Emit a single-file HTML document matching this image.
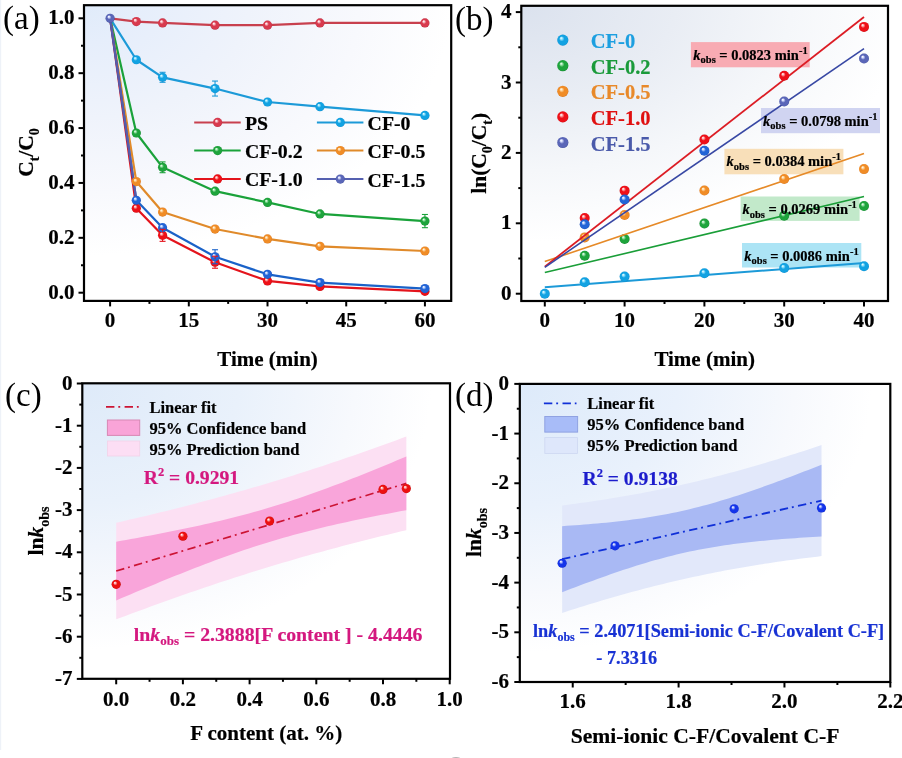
<!DOCTYPE html>
<html><head><meta charset="utf-8"><title>Figure</title>
<style>html,body{margin:0;padding:0;background:#fff;width:902px;height:758px;overflow:hidden}svg{display:block}</style>
</head><body>
<svg width="902" height="758" viewBox="0 0 902 758" font-family="'Liberation Serif', 'Times New Roman', serif"><defs><radialGradient id="m_ps" cx="0.5" cy="0.5" r="0.52" fx="0.34" fy="0.3"><stop offset="0" stop-color="#ffffff"/><stop offset="0.16" stop-color="#fbd0d6"/><stop offset="0.45" stop-color="#d83a4e"/><stop offset="0.85" stop-color="#d83a4e"/><stop offset="1" stop-color="#b02a3c"/></radialGradient><radialGradient id="m_cf0" cx="0.5" cy="0.5" r="0.52" fx="0.34" fy="0.3"><stop offset="0" stop-color="#ffffff"/><stop offset="0.16" stop-color="#a8eaff"/><stop offset="0.45" stop-color="#12a2e2"/><stop offset="0.85" stop-color="#12a2e2"/><stop offset="1" stop-color="#0c88c8"/></radialGradient><radialGradient id="m_cf02" cx="0.5" cy="0.5" r="0.52" fx="0.34" fy="0.3"><stop offset="0" stop-color="#ffffff"/><stop offset="0.16" stop-color="#b0ecbc"/><stop offset="0.45" stop-color="#1ea43c"/><stop offset="0.85" stop-color="#1ea43c"/><stop offset="1" stop-color="#12822c"/></radialGradient><radialGradient id="m_cf05" cx="0.5" cy="0.5" r="0.52" fx="0.34" fy="0.3"><stop offset="0" stop-color="#ffffff"/><stop offset="0.16" stop-color="#ffe0b0"/><stop offset="0.45" stop-color="#f08c26"/><stop offset="0.85" stop-color="#f08c26"/><stop offset="1" stop-color="#d0701a"/></radialGradient><radialGradient id="m_cf10" cx="0.5" cy="0.5" r="0.52" fx="0.34" fy="0.3"><stop offset="0" stop-color="#ffffff"/><stop offset="0.16" stop-color="#ffc0c0"/><stop offset="0.45" stop-color="#ee1018"/><stop offset="0.85" stop-color="#ee1018"/><stop offset="1" stop-color="#c4080e"/></radialGradient><radialGradient id="m_slate" cx="0.5" cy="0.5" r="0.52" fx="0.34" fy="0.3"><stop offset="0" stop-color="#ffffff"/><stop offset="0.16" stop-color="#dce2ff"/><stop offset="0.45" stop-color="#5a66b8"/><stop offset="0.85" stop-color="#5a66b8"/><stop offset="1" stop-color="#404c98"/></radialGradient><radialGradient id="m_royal" cx="0.5" cy="0.5" r="0.52" fx="0.34" fy="0.3"><stop offset="0" stop-color="#ffffff"/><stop offset="0.16" stop-color="#c8dcff"/><stop offset="0.45" stop-color="#2264d6"/><stop offset="0.85" stop-color="#2264d6"/><stop offset="1" stop-color="#1448b0"/></radialGradient><radialGradient id="m_dblue" cx="0.5" cy="0.5" r="0.52" fx="0.34" fy="0.3"><stop offset="0" stop-color="#ffffff"/><stop offset="0.16" stop-color="#c0ccff"/><stop offset="0.45" stop-color="#1434ea"/><stop offset="0.85" stop-color="#1434ea"/><stop offset="1" stop-color="#0a22c0"/></radialGradient><radialGradient id="m_cred" cx="0.5" cy="0.5" r="0.52" fx="0.34" fy="0.3"><stop offset="0" stop-color="#ffffff"/><stop offset="0.16" stop-color="#ffc0c0"/><stop offset="0.45" stop-color="#ec1010"/><stop offset="0.85" stop-color="#ec1010"/><stop offset="1" stop-color="#b40808"/></radialGradient><radialGradient id="bga" gradientUnits="userSpaceOnUse" cx="0" cy="0" r="1" gradientTransform="translate(84,5) scale(367.0,250.8)"><stop offset="0" stop-color="#e0ebfa"/><stop offset="0.15" stop-color="#e6eefb"/><stop offset="0.45" stop-color="#eff3fb"/><stop offset="0.75" stop-color="#f8f9fd"/><stop offset="1" stop-color="#ffffff"/></radialGradient><radialGradient id="bgb" gradientUnits="userSpaceOnUse" cx="0" cy="0" r="1" gradientTransform="translate(521,6) scale(385.4,236.0)"><stop offset="0" stop-color="#dbe2ee"/><stop offset="0.4" stop-color="#e9edf4"/><stop offset="0.7" stop-color="#f5f7fa"/><stop offset="1" stop-color="#ffffff"/></radialGradient><radialGradient id="bgc" gradientUnits="userSpaceOnUse" cx="0" cy="0" r="1" gradientTransform="translate(82,383) scale(349.6,266.4)"><stop offset="0" stop-color="#deeaf9"/><stop offset="0.45" stop-color="#e9f1fb"/><stop offset="0.78" stop-color="#f7f9fd"/><stop offset="1" stop-color="#ffffff"/></radialGradient><radialGradient id="bgd" gradientUnits="userSpaceOnUse" cx="0" cy="0" r="1" gradientTransform="translate(520,384) scale(351.5,268.2)"><stop offset="0" stop-color="#ddeafa"/><stop offset="0.45" stop-color="#e9f1fc"/><stop offset="0.78" stop-color="#f7f9fd"/><stop offset="1" stop-color="#ffffff"/></radialGradient></defs><rect width="902" height="758" fill="#fff"/><rect x="84.0" y="5.2" width="367.2" height="295.7" fill="url(#bga)"/>
<polyline points="110.10,18.30 136.33,21.59 162.57,22.96 215.04,25.16 267.51,25.16 319.98,22.96 424.92,22.96" fill="none" stroke="#c8404e" stroke-width="2.2" stroke-linejoin="round" />
<polyline points="110.10,18.30 136.33,59.73 162.57,77.30 215.04,88.55 267.51,101.99 319.98,106.66 424.92,115.44" fill="none" stroke="#1c9ad8" stroke-width="2.2" stroke-linejoin="round" />
<polyline points="110.10,18.30 136.33,133.00 162.57,167.30 215.04,191.17 267.51,202.42 319.98,213.95 424.92,221.08" fill="none" stroke="#1aa23a" stroke-width="2.2" stroke-linejoin="round" />
<polyline points="110.10,18.30 136.33,181.57 162.57,212.03 215.04,229.04 267.51,238.92 319.98,246.33 424.92,250.99" fill="none" stroke="#e08a2a" stroke-width="2.2" stroke-linejoin="round" />
<polyline points="110.10,18.30 136.33,208.18 162.57,235.35 215.04,262.24 267.51,280.90 319.98,286.39 424.92,291.33" fill="none" stroke="#e4141c" stroke-width="2.2" stroke-linejoin="round" />
<polyline points="110.10,18.30 136.33,200.23 162.57,227.67 215.04,256.75 267.51,274.32 319.98,282.55 424.92,288.58" fill="none" stroke="#1a62c8" stroke-width="2.2" stroke-linejoin="round" />
<line x1="110.10" y1="18.30" x2="136.33" y2="199.73" stroke="#5a5aa8" stroke-width="2.0" />
<circle cx="136.33" cy="21.59" r="4.6" fill="url(#m_ps)"/>
<circle cx="162.57" cy="22.96" r="4.6" fill="url(#m_ps)"/>
<circle cx="215.04" cy="25.16" r="4.6" fill="url(#m_ps)"/>
<circle cx="267.51" cy="25.16" r="4.6" fill="url(#m_ps)"/>
<circle cx="319.98" cy="22.96" r="4.6" fill="url(#m_ps)"/>
<circle cx="424.92" cy="22.96" r="4.6" fill="url(#m_ps)"/>
<circle cx="136.33" cy="59.73" r="4.6" fill="url(#m_cf0)"/>
<circle cx="162.57" cy="77.30" r="4.6" fill="url(#m_cf0)"/>
<circle cx="215.04" cy="88.55" r="4.6" fill="url(#m_cf0)"/>
<circle cx="267.51" cy="101.99" r="4.6" fill="url(#m_cf0)"/>
<circle cx="319.98" cy="106.66" r="4.6" fill="url(#m_cf0)"/>
<circle cx="424.92" cy="115.44" r="4.6" fill="url(#m_cf0)"/>
<circle cx="136.33" cy="133.00" r="4.6" fill="url(#m_cf02)"/>
<circle cx="162.57" cy="167.30" r="4.6" fill="url(#m_cf02)"/>
<circle cx="215.04" cy="191.17" r="4.6" fill="url(#m_cf02)"/>
<circle cx="267.51" cy="202.42" r="4.6" fill="url(#m_cf02)"/>
<circle cx="319.98" cy="213.95" r="4.6" fill="url(#m_cf02)"/>
<circle cx="424.92" cy="221.08" r="4.6" fill="url(#m_cf02)"/>
<circle cx="136.33" cy="181.57" r="4.6" fill="url(#m_cf05)"/>
<circle cx="162.57" cy="212.03" r="4.6" fill="url(#m_cf05)"/>
<circle cx="215.04" cy="229.04" r="4.6" fill="url(#m_cf05)"/>
<circle cx="267.51" cy="238.92" r="4.6" fill="url(#m_cf05)"/>
<circle cx="319.98" cy="246.33" r="4.6" fill="url(#m_cf05)"/>
<circle cx="424.92" cy="250.99" r="4.6" fill="url(#m_cf05)"/>
<circle cx="136.33" cy="208.18" r="4.6" fill="url(#m_cf10)"/>
<circle cx="162.57" cy="235.35" r="4.6" fill="url(#m_cf10)"/>
<circle cx="215.04" cy="262.24" r="4.6" fill="url(#m_cf10)"/>
<circle cx="267.51" cy="280.90" r="4.6" fill="url(#m_cf10)"/>
<circle cx="319.98" cy="286.39" r="4.6" fill="url(#m_cf10)"/>
<circle cx="424.92" cy="291.33" r="4.6" fill="url(#m_cf10)"/>
<circle cx="136.33" cy="200.23" r="4.6" fill="url(#m_royal)"/>
<circle cx="162.57" cy="227.67" r="4.6" fill="url(#m_royal)"/>
<circle cx="215.04" cy="256.75" r="4.6" fill="url(#m_royal)"/>
<circle cx="267.51" cy="274.32" r="4.6" fill="url(#m_royal)"/>
<circle cx="319.98" cy="282.55" r="4.6" fill="url(#m_royal)"/>
<circle cx="424.92" cy="288.58" r="4.6" fill="url(#m_royal)"/>
<line x1="162.57" y1="72.30" x2="162.57" y2="73.80" stroke="#1c9ad8" stroke-width="1.1" />
<line x1="162.57" y1="80.80" x2="162.57" y2="82.30" stroke="#1c9ad8" stroke-width="1.1" />
<line x1="159.57" y1="72.30" x2="165.57" y2="72.30" stroke="#1c9ad8" stroke-width="1.1" />
<line x1="159.57" y1="82.30" x2="165.57" y2="82.30" stroke="#1c9ad8" stroke-width="1.1" />
<line x1="215.04" y1="81.05" x2="215.04" y2="85.05" stroke="#1c9ad8" stroke-width="1.1" />
<line x1="215.04" y1="92.05" x2="215.04" y2="96.05" stroke="#1c9ad8" stroke-width="1.1" />
<line x1="212.04" y1="81.05" x2="218.04" y2="81.05" stroke="#1c9ad8" stroke-width="1.1" />
<line x1="212.04" y1="96.05" x2="218.04" y2="96.05" stroke="#1c9ad8" stroke-width="1.1" />
<line x1="162.57" y1="161.90" x2="162.57" y2="163.80" stroke="#1aa23a" stroke-width="1.1" />
<line x1="162.57" y1="170.80" x2="162.57" y2="172.70" stroke="#1aa23a" stroke-width="1.1" />
<line x1="159.57" y1="161.90" x2="165.57" y2="161.90" stroke="#1aa23a" stroke-width="1.1" />
<line x1="159.57" y1="172.70" x2="165.57" y2="172.70" stroke="#1aa23a" stroke-width="1.1" />
<line x1="424.92" y1="214.48" x2="424.92" y2="217.58" stroke="#1aa23a" stroke-width="1.1" />
<line x1="424.92" y1="224.58" x2="424.92" y2="227.68" stroke="#1aa23a" stroke-width="1.1" />
<line x1="421.92" y1="214.48" x2="427.92" y2="214.48" stroke="#1aa23a" stroke-width="1.1" />
<line x1="421.92" y1="227.68" x2="427.92" y2="227.68" stroke="#1aa23a" stroke-width="1.1" />
<line x1="162.57" y1="229.35" x2="162.57" y2="231.85" stroke="#e4141c" stroke-width="1.1" />
<line x1="162.57" y1="238.85" x2="162.57" y2="241.35" stroke="#e4141c" stroke-width="1.1" />
<line x1="159.57" y1="229.35" x2="165.57" y2="229.35" stroke="#e4141c" stroke-width="1.1" />
<line x1="159.57" y1="241.35" x2="165.57" y2="241.35" stroke="#e4141c" stroke-width="1.1" />
<line x1="215.04" y1="256.24" x2="215.04" y2="258.74" stroke="#e4141c" stroke-width="1.1" />
<line x1="215.04" y1="265.74" x2="215.04" y2="268.24" stroke="#e4141c" stroke-width="1.1" />
<line x1="212.04" y1="256.24" x2="218.04" y2="256.24" stroke="#e4141c" stroke-width="1.1" />
<line x1="212.04" y1="268.24" x2="218.04" y2="268.24" stroke="#e4141c" stroke-width="1.1" />
<line x1="215.04" y1="249.75" x2="215.04" y2="253.25" stroke="#1a62c8" stroke-width="1.1" />
<line x1="215.04" y1="260.25" x2="215.04" y2="263.75" stroke="#1a62c8" stroke-width="1.1" />
<line x1="212.04" y1="249.75" x2="218.04" y2="249.75" stroke="#1a62c8" stroke-width="1.1" />
<line x1="212.04" y1="263.75" x2="218.04" y2="263.75" stroke="#1a62c8" stroke-width="1.1" />
<circle cx="110.10" cy="18.30" r="4.6" fill="url(#m_slate)"/>
<line x1="194.20" y1="122.40" x2="240.70" y2="122.40" stroke="#c8404e" stroke-width="2.0" />
<circle cx="217.60" cy="122.40" r="4.6" fill="url(#m_ps)"/>
<text x="244.90" y="129.90" font-size="19.8" font-weight="bold" fill="#000" text-anchor="start"  stroke="#000" stroke-width="0.2">PS</text>
<line x1="316.90" y1="122.40" x2="363.40" y2="122.40" stroke="#1c9ad8" stroke-width="2.0" />
<circle cx="340.30" cy="122.40" r="4.6" fill="url(#m_cf0)"/>
<text x="367.60" y="129.90" font-size="19.8" font-weight="bold" fill="#000" text-anchor="start"  stroke="#000" stroke-width="0.2">CF-0</text>
<line x1="194.20" y1="150.60" x2="240.70" y2="150.60" stroke="#1aa23a" stroke-width="2.0" />
<circle cx="217.60" cy="150.60" r="4.6" fill="url(#m_cf02)"/>
<text x="244.90" y="158.10" font-size="19.8" font-weight="bold" fill="#000" text-anchor="start"  stroke="#000" stroke-width="0.2">CF-0.2</text>
<line x1="316.90" y1="150.60" x2="363.40" y2="150.60" stroke="#e08a2a" stroke-width="2.0" />
<circle cx="340.30" cy="150.60" r="4.6" fill="url(#m_cf05)"/>
<text x="367.60" y="158.10" font-size="19.8" font-weight="bold" fill="#000" text-anchor="start"  stroke="#000" stroke-width="0.2">CF-0.5</text>
<line x1="194.20" y1="178.90" x2="240.70" y2="178.90" stroke="#e4141c" stroke-width="2.0" />
<circle cx="217.60" cy="178.90" r="4.6" fill="url(#m_cf10)"/>
<text x="244.90" y="186.40" font-size="19.8" font-weight="bold" fill="#000" text-anchor="start"  stroke="#000" stroke-width="0.2">CF-1.0</text>
<line x1="316.90" y1="179.10" x2="363.40" y2="179.10" stroke="#5560b0" stroke-width="2.0" />
<circle cx="340.30" cy="179.10" r="4.6" fill="url(#m_slate)"/>
<text x="367.60" y="186.60" font-size="19.8" font-weight="bold" fill="#000" text-anchor="start"  stroke="#000" stroke-width="0.2">CF-1.5</text>
<rect x="84.00" y="5.20" width="367.20" height="295.70" fill="none" stroke="#000" stroke-width="2.2"/>
<line x1="78.50" y1="292.70" x2="84.00" y2="292.70" stroke="#000" stroke-width="2" />
<line x1="78.50" y1="237.82" x2="84.00" y2="237.82" stroke="#000" stroke-width="2" />
<line x1="78.50" y1="182.94" x2="84.00" y2="182.94" stroke="#000" stroke-width="2" />
<line x1="78.50" y1="128.06" x2="84.00" y2="128.06" stroke="#000" stroke-width="2" />
<line x1="78.50" y1="73.18" x2="84.00" y2="73.18" stroke="#000" stroke-width="2" />
<line x1="78.50" y1="18.30" x2="84.00" y2="18.30" stroke="#000" stroke-width="2" />
<line x1="81.00" y1="265.26" x2="84.00" y2="265.26" stroke="#000" stroke-width="2" />
<line x1="81.00" y1="210.38" x2="84.00" y2="210.38" stroke="#000" stroke-width="2" />
<line x1="81.00" y1="155.50" x2="84.00" y2="155.50" stroke="#000" stroke-width="2" />
<line x1="81.00" y1="100.62" x2="84.00" y2="100.62" stroke="#000" stroke-width="2" />
<line x1="81.00" y1="45.74" x2="84.00" y2="45.74" stroke="#000" stroke-width="2" />
<line x1="110.10" y1="300.90" x2="110.10" y2="306.40" stroke="#000" stroke-width="2" />
<line x1="188.81" y1="300.90" x2="188.81" y2="306.40" stroke="#000" stroke-width="2" />
<line x1="267.51" y1="300.90" x2="267.51" y2="306.40" stroke="#000" stroke-width="2" />
<line x1="346.22" y1="300.90" x2="346.22" y2="306.40" stroke="#000" stroke-width="2" />
<line x1="424.92" y1="300.90" x2="424.92" y2="306.40" stroke="#000" stroke-width="2" />
<line x1="149.45" y1="300.90" x2="149.45" y2="303.90" stroke="#000" stroke-width="2" />
<line x1="228.16" y1="300.90" x2="228.16" y2="303.90" stroke="#000" stroke-width="2" />
<line x1="306.86" y1="300.90" x2="306.86" y2="303.90" stroke="#000" stroke-width="2" />
<line x1="385.57" y1="300.90" x2="385.57" y2="303.90" stroke="#000" stroke-width="2" />
<text x="74.50" y="298.80" font-size="21" font-weight="bold" fill="#000" text-anchor="end"  stroke="#000" stroke-width="0.2">0.0</text>
<text x="74.50" y="243.92" font-size="21" font-weight="bold" fill="#000" text-anchor="end"  stroke="#000" stroke-width="0.2">0.2</text>
<text x="74.50" y="189.04" font-size="21" font-weight="bold" fill="#000" text-anchor="end"  stroke="#000" stroke-width="0.2">0.4</text>
<text x="74.50" y="134.16" font-size="21" font-weight="bold" fill="#000" text-anchor="end"  stroke="#000" stroke-width="0.2">0.6</text>
<text x="74.50" y="79.28" font-size="21" font-weight="bold" fill="#000" text-anchor="end"  stroke="#000" stroke-width="0.2">0.8</text>
<text x="74.50" y="24.40" font-size="21" font-weight="bold" fill="#000" text-anchor="end"  stroke="#000" stroke-width="0.2">1.0</text>
<text x="110.10" y="327.20" font-size="21" font-weight="bold" fill="#000" text-anchor="middle"  stroke="#000" stroke-width="0.2">0</text>
<text x="188.81" y="327.20" font-size="21" font-weight="bold" fill="#000" text-anchor="middle"  stroke="#000" stroke-width="0.2">15</text>
<text x="267.51" y="327.20" font-size="21" font-weight="bold" fill="#000" text-anchor="middle"  stroke="#000" stroke-width="0.2">30</text>
<text x="346.22" y="327.20" font-size="21" font-weight="bold" fill="#000" text-anchor="middle"  stroke="#000" stroke-width="0.2">45</text>
<text x="424.92" y="327.20" font-size="21" font-weight="bold" fill="#000" text-anchor="middle"  stroke="#000" stroke-width="0.2">60</text>
<text x="267.60" y="366.00" font-size="21" font-weight="bold" fill="#000" text-anchor="middle"  stroke="#000" stroke-width="0.2">Time (min)</text>
<text transform="translate(33,152.5) rotate(-90)" font-size="21.5" font-weight="bold" text-anchor="middle" stroke="#000" stroke-width="0.2">C<tspan font-size="14" dy="5.5">t</tspan><tspan dy="-5.5">/C</tspan><tspan font-size="14" dy="5.5">0</tspan></text>
<text x="3.10" y="29.40" font-size="33" font-weight="normal" fill="#000" text-anchor="start" >(a)</text>
<rect x="521.3" y="5.8" width="366.70000000000005" height="295.2" fill="url(#bgb)"/>
<rect x="690.9" y="42.1" width="118.8" height="25.2" fill="#f8abb3"/>
<rect x="761.0" y="108.0" width="119.0" height="25.2" fill="#d0d4f1"/>
<rect x="724.4" y="148.8" width="119.0" height="25.5" fill="#f8dfb9"/>
<rect x="740.6" y="196.5" width="119.0" height="24.4" fill="#c2e9ca"/>
<rect x="742.0" y="243.0" width="119.3" height="24.5" fill="#ace4f5"/>
<line x1="544.80" y1="287.29" x2="864.00" y2="262.94" stroke="#1c9ad8" stroke-width="2.0" />
<circle cx="544.80" cy="293.70" r="5.0" fill="url(#m_cf0)"/>
<circle cx="584.70" cy="282.22" r="5.0" fill="url(#m_cf0)"/>
<circle cx="624.60" cy="276.59" r="5.0" fill="url(#m_cf0)"/>
<circle cx="704.40" cy="273.21" r="5.0" fill="url(#m_cf0)"/>
<circle cx="784.20" cy="267.93" r="5.0" fill="url(#m_cf0)"/>
<circle cx="864.00" cy="266.24" r="5.0" fill="url(#m_cf0)"/>
<line x1="544.80" y1="272.58" x2="864.00" y2="196.55" stroke="#1a9e38" stroke-width="1.6" />
<circle cx="584.70" cy="255.68" r="5.0" fill="url(#m_cf02)"/>
<circle cx="624.60" cy="238.93" r="5.0" fill="url(#m_cf02)"/>
<circle cx="704.40" cy="223.58" r="5.0" fill="url(#m_cf02)"/>
<circle cx="784.20" cy="215.77" r="5.0" fill="url(#m_cf02)"/>
<circle cx="864.00" cy="206.05" r="5.0" fill="url(#m_cf02)"/>
<line x1="544.80" y1="261.60" x2="864.00" y2="153.60" stroke="#e68a28" stroke-width="1.6" />
<circle cx="584.70" cy="237.38" r="5.0" fill="url(#m_cf05)"/>
<circle cx="624.60" cy="214.92" r="5.0" fill="url(#m_cf05)"/>
<circle cx="704.40" cy="190.56" r="5.0" fill="url(#m_cf05)"/>
<circle cx="784.20" cy="178.95" r="5.0" fill="url(#m_cf05)"/>
<circle cx="864.00" cy="169.09" r="5.0" fill="url(#m_cf05)"/>
<line x1="544.80" y1="266.60" x2="864.00" y2="17.03" stroke="#dc1c24" stroke-width="1.8" />
<circle cx="584.70" cy="218.02" r="5.0" fill="url(#m_cf10)"/>
<circle cx="624.60" cy="190.63" r="5.0" fill="url(#m_cf10)"/>
<circle cx="704.40" cy="139.52" r="5.0" fill="url(#m_cf10)"/>
<circle cx="784.20" cy="75.81" r="5.0" fill="url(#m_cf10)"/>
<circle cx="864.00" cy="26.88" r="5.0" fill="url(#m_cf10)"/>
<line x1="544.80" y1="267.30" x2="864.00" y2="48.71" stroke="#3848a4" stroke-width="1.6" />
<circle cx="584.70" cy="224.29" r="5.0" fill="url(#m_royal)"/>
<circle cx="624.60" cy="199.50" r="5.0" fill="url(#m_royal)"/>
<circle cx="704.40" cy="150.79" r="5.0" fill="url(#m_royal)"/>
<circle cx="784.20" cy="101.51" r="5.0" fill="url(#m_slate)"/>
<circle cx="864.00" cy="58.56" r="5.0" fill="url(#m_slate)"/>
<text x="693.3" y="59.7" font-size="14.5" font-weight="bold" stroke="#000" stroke-width="0.2"><tspan font-style="italic">k</tspan><tspan font-size="10.5" dy="3.5">obs</tspan><tspan dy="-3.5"> = 0.0823 min</tspan><tspan font-size="10.5" dy="-6">-1</tspan></text>
<text x="763.1" y="125.6" font-size="14.5" font-weight="bold" stroke="#000" stroke-width="0.2"><tspan font-style="italic">k</tspan><tspan font-size="10.5" dy="3.5">obs</tspan><tspan dy="-3.5"> = 0.0798 min</tspan><tspan font-size="10.5" dy="-6">-1</tspan></text>
<text x="726.6" y="166.4" font-size="14.5" font-weight="bold" stroke="#000" stroke-width="0.2"><tspan font-style="italic">k</tspan><tspan font-size="10.5" dy="3.5">obs</tspan><tspan dy="-3.5"> = 0.0384 min</tspan><tspan font-size="10.5" dy="-6">-1</tspan></text>
<text x="742.5" y="214.1" font-size="14.5" font-weight="bold" stroke="#000" stroke-width="0.2"><tspan font-style="italic">k</tspan><tspan font-size="10.5" dy="3.5">obs</tspan><tspan dy="-3.5"> = 0.0269 min</tspan><tspan font-size="10.5" dy="-6">-1</tspan></text>
<text x="744.3" y="260.6" font-size="14.5" font-weight="bold" stroke="#000" stroke-width="0.2"><tspan font-style="italic">k</tspan><tspan font-size="10.5" dy="3.5">obs</tspan><tspan dy="-3.5"> = 0.0086 min</tspan><tspan font-size="10.5" dy="-6">-1</tspan></text>
<circle cx="562.80" cy="40.10" r="5.6" fill="url(#m_cf0)"/>
<text x="590.80" y="48.10" font-size="20.5" font-weight="bold" fill="#1c9fe0" text-anchor="start"  stroke="#1c9fe0" stroke-width="0.2">CF-0</text>
<circle cx="562.80" cy="65.70" r="5.6" fill="url(#m_cf02)"/>
<text x="590.80" y="73.70" font-size="20.5" font-weight="bold" fill="#1a9a3a" text-anchor="start"  stroke="#1a9a3a" stroke-width="0.2">CF-0.2</text>
<circle cx="562.80" cy="91.30" r="5.6" fill="url(#m_cf05)"/>
<text x="590.80" y="99.30" font-size="20.5" font-weight="bold" fill="#e8892a" text-anchor="start"  stroke="#e8892a" stroke-width="0.2">CF-0.5</text>
<circle cx="562.80" cy="116.90" r="5.6" fill="url(#m_cf10)"/>
<text x="590.80" y="124.90" font-size="20.5" font-weight="bold" fill="#e01010" text-anchor="start"  stroke="#e01010" stroke-width="0.2">CF-1.0</text>
<circle cx="562.80" cy="142.50" r="5.6" fill="url(#m_slate)"/>
<text x="590.80" y="150.50" font-size="20.5" font-weight="bold" fill="#4a5aaa" text-anchor="start"  stroke="#4a5aaa" stroke-width="0.2">CF-1.5</text>
<rect x="521.30" y="5.80" width="366.70" height="295.20" fill="none" stroke="#000" stroke-width="2.2"/>
<line x1="515.80" y1="293.70" x2="521.30" y2="293.70" stroke="#000" stroke-width="2" />
<line x1="515.80" y1="223.30" x2="521.30" y2="223.30" stroke="#000" stroke-width="2" />
<line x1="515.80" y1="152.90" x2="521.30" y2="152.90" stroke="#000" stroke-width="2" />
<line x1="515.80" y1="82.50" x2="521.30" y2="82.50" stroke="#000" stroke-width="2" />
<line x1="515.80" y1="12.10" x2="521.30" y2="12.10" stroke="#000" stroke-width="2" />
<line x1="518.30" y1="258.50" x2="521.30" y2="258.50" stroke="#000" stroke-width="2" />
<line x1="518.30" y1="188.10" x2="521.30" y2="188.10" stroke="#000" stroke-width="2" />
<line x1="518.30" y1="117.70" x2="521.30" y2="117.70" stroke="#000" stroke-width="2" />
<line x1="518.30" y1="47.30" x2="521.30" y2="47.30" stroke="#000" stroke-width="2" />
<line x1="544.80" y1="301.00" x2="544.80" y2="306.50" stroke="#000" stroke-width="2" />
<line x1="624.60" y1="301.00" x2="624.60" y2="306.50" stroke="#000" stroke-width="2" />
<line x1="704.40" y1="301.00" x2="704.40" y2="306.50" stroke="#000" stroke-width="2" />
<line x1="784.20" y1="301.00" x2="784.20" y2="306.50" stroke="#000" stroke-width="2" />
<line x1="864.00" y1="301.00" x2="864.00" y2="306.50" stroke="#000" stroke-width="2" />
<line x1="584.70" y1="301.00" x2="584.70" y2="304.00" stroke="#000" stroke-width="2" />
<line x1="664.50" y1="301.00" x2="664.50" y2="304.00" stroke="#000" stroke-width="2" />
<line x1="744.30" y1="301.00" x2="744.30" y2="304.00" stroke="#000" stroke-width="2" />
<line x1="824.10" y1="301.00" x2="824.10" y2="304.00" stroke="#000" stroke-width="2" />
<text x="511.50" y="299.80" font-size="21" font-weight="bold" fill="#000" text-anchor="end"  stroke="#000" stroke-width="0.2">0</text>
<text x="511.50" y="229.40" font-size="21" font-weight="bold" fill="#000" text-anchor="end"  stroke="#000" stroke-width="0.2">1</text>
<text x="511.50" y="159.00" font-size="21" font-weight="bold" fill="#000" text-anchor="end"  stroke="#000" stroke-width="0.2">2</text>
<text x="511.50" y="88.60" font-size="21" font-weight="bold" fill="#000" text-anchor="end"  stroke="#000" stroke-width="0.2">3</text>
<text x="511.50" y="18.20" font-size="21" font-weight="bold" fill="#000" text-anchor="end"  stroke="#000" stroke-width="0.2">4</text>
<text x="544.80" y="327.20" font-size="21" font-weight="bold" fill="#000" text-anchor="middle"  stroke="#000" stroke-width="0.2">0</text>
<text x="624.60" y="327.20" font-size="21" font-weight="bold" fill="#000" text-anchor="middle"  stroke="#000" stroke-width="0.2">10</text>
<text x="704.40" y="327.20" font-size="21" font-weight="bold" fill="#000" text-anchor="middle"  stroke="#000" stroke-width="0.2">20</text>
<text x="784.20" y="327.20" font-size="21" font-weight="bold" fill="#000" text-anchor="middle"  stroke="#000" stroke-width="0.2">30</text>
<text x="864.00" y="327.20" font-size="21" font-weight="bold" fill="#000" text-anchor="middle"  stroke="#000" stroke-width="0.2">40</text>
<text x="704.65" y="366.00" font-size="21" font-weight="bold" fill="#000" text-anchor="middle"  stroke="#000" stroke-width="0.2">Time (min)</text>
<text transform="translate(486,153.3) rotate(-90)" font-size="21.5" font-weight="bold" text-anchor="middle" stroke="#000" stroke-width="0.2">ln(C<tspan font-size="14" dy="5.5">0</tspan><tspan dy="-5.5">/C</tspan><tspan font-size="14" dy="5.5">t</tspan><tspan dy="-5.5">)</tspan></text>
<text x="455.00" y="29.60" font-size="33" font-weight="normal" fill="#000" text-anchor="start" >(b)</text>
<rect x="82.3" y="383.3" width="367.7" height="295.49999999999994" fill="url(#bgc)"/>
<path d="M116.20,522.75 L121.12,521.64 L126.04,520.51 L130.95,519.37 L135.87,518.22 L140.79,517.07 L145.71,515.90 L150.62,514.72 L155.54,513.54 L160.46,512.34 L165.38,511.13 L170.29,509.91 L175.21,508.68 L180.13,507.44 L185.05,506.18 L189.97,504.92 L194.88,503.64 L199.80,502.35 L204.72,501.05 L209.64,499.74 L214.55,498.41 L219.47,497.07 L224.39,495.72 L229.31,494.35 L234.23,492.98 L239.14,491.59 L244.06,490.18 L248.98,488.76 L253.90,487.33 L258.81,485.89 L263.73,484.43 L268.65,482.96 L273.57,481.47 L278.48,479.97 L283.40,478.46 L288.32,476.94 L293.24,475.40 L298.16,473.84 L303.07,472.28 L307.99,470.70 L312.91,469.11 L317.83,467.50 L322.74,465.88 L327.66,464.25 L332.58,462.61 L337.50,460.95 L342.41,459.28 L347.33,457.60 L352.25,455.91 L357.17,454.20 L362.09,452.49 L367.00,450.76 L371.92,449.02 L376.84,447.27 L381.76,445.50 L386.67,443.73 L391.59,441.95 L396.51,440.15 L401.43,438.35 L406.34,436.53 L406.34,530.18 L401.43,531.34 L396.51,532.51 L391.59,533.69 L386.67,534.88 L381.76,536.08 L376.84,537.29 L371.92,538.51 L367.00,539.75 L362.09,540.99 L357.17,542.25 L352.25,543.51 L347.33,544.79 L342.41,546.08 L337.50,547.39 L332.58,548.71 L327.66,550.03 L322.74,551.38 L317.83,552.73 L312.91,554.10 L307.99,555.48 L303.07,556.87 L298.16,558.28 L293.24,559.70 L288.32,561.13 L283.40,562.58 L278.48,564.04 L273.57,565.52 L268.65,567.00 L263.73,568.51 L258.81,570.02 L253.90,571.55 L248.98,573.09 L244.06,574.65 L239.14,576.22 L234.23,577.80 L229.31,579.39 L224.39,581.00 L219.47,582.62 L214.55,584.25 L209.64,585.90 L204.72,587.56 L199.80,589.23 L194.88,590.92 L189.97,592.61 L185.05,594.32 L180.13,596.04 L175.21,597.77 L170.29,599.51 L165.38,601.27 L160.46,603.03 L155.54,604.80 L150.62,606.59 L145.71,608.39 L140.79,610.19 L135.87,612.01 L130.95,613.84 L126.04,615.67 L121.12,617.52 L116.20,619.37Z" fill="#fce0f3"/>
<path d="M116.20,541.70 L121.12,540.82 L126.04,539.94 L130.95,539.04 L135.87,538.14 L140.79,537.24 L145.71,536.32 L150.62,535.39 L155.54,534.45 L160.46,533.50 L165.38,532.54 L170.29,531.57 L175.21,530.58 L180.13,529.58 L185.05,528.56 L189.97,527.53 L194.88,526.48 L199.80,525.41 L204.72,524.32 L209.64,523.21 L214.55,522.08 L219.47,520.92 L224.39,519.74 L229.31,518.53 L234.23,517.30 L239.14,516.04 L244.06,514.75 L248.98,513.42 L253.90,512.07 L258.81,510.69 L263.73,509.27 L268.65,507.82 L273.57,506.34 L278.48,504.82 L283.40,503.27 L288.32,501.69 L293.24,500.08 L298.16,498.43 L303.07,496.76 L307.99,495.05 L312.91,493.32 L317.83,491.56 L322.74,489.77 L327.66,487.96 L332.58,486.12 L337.50,484.26 L342.41,482.38 L347.33,480.48 L352.25,478.56 L357.17,476.63 L362.09,474.68 L367.00,472.71 L371.92,470.72 L376.84,468.73 L381.76,466.72 L386.67,464.70 L391.59,462.66 L396.51,460.62 L401.43,458.57 L406.34,456.51 L406.34,510.21 L401.43,511.12 L396.51,512.04 L391.59,512.97 L386.67,513.91 L381.76,514.87 L376.84,515.83 L371.92,516.81 L367.00,517.80 L362.09,518.80 L357.17,519.82 L352.25,520.86 L347.33,521.91 L342.41,522.99 L337.50,524.08 L332.58,525.19 L327.66,526.33 L322.74,527.49 L317.83,528.68 L312.91,529.89 L307.99,531.13 L303.07,532.40 L298.16,533.69 L293.24,535.02 L288.32,536.38 L283.40,537.77 L278.48,539.20 L273.57,540.65 L268.65,542.14 L263.73,543.67 L258.81,545.22 L253.90,546.81 L248.98,548.43 L244.06,550.08 L239.14,551.76 L234.23,553.47 L229.31,555.21 L224.39,556.98 L219.47,558.77 L214.55,560.59 L209.64,562.43 L204.72,564.29 L199.80,566.18 L194.88,568.08 L189.97,570.00 L185.05,571.94 L180.13,573.90 L175.21,575.87 L170.29,577.85 L165.38,579.85 L160.46,581.87 L155.54,583.89 L150.62,585.92 L145.71,587.97 L140.79,590.02 L135.87,592.09 L130.95,594.16 L126.04,596.24 L121.12,598.33 L116.20,600.42Z" fill="#f9a5da"/>
<line x1="116.20" y1="571.06" x2="406.34" y2="483.36" stroke="#cc1434" stroke-width="1.7" stroke-dasharray="8.4,3.9,1.9,4.4"/>
<circle cx="116.20" cy="584.37" r="4.6" fill="url(#m_cred)"/>
<circle cx="182.90" cy="536.26" r="4.6" fill="url(#m_cred)"/>
<circle cx="269.61" cy="521.07" r="4.6" fill="url(#m_cred)"/>
<circle cx="383.00" cy="489.42" r="4.6" fill="url(#m_cred)"/>
<circle cx="406.34" cy="488.58" r="4.6" fill="url(#m_cred)"/>
<line x1="106.00" y1="406.80" x2="138.70" y2="406.80" stroke="#cc1434" stroke-width="1.7" stroke-dasharray="8.4,3.9,1.9,4.4"/>
<rect x="107.4" y="420.0" width="32.3" height="15.4" fill="#f9a4d8" stroke="#d888b4" stroke-width="1"/>
<rect x="107.4" y="441.0" width="32.3" height="15.0" fill="#fcdef4" stroke="#f2d2e8" stroke-width="0.8"/>
<text x="149.40" y="413.20" font-size="16.5" font-weight="bold" fill="#000" text-anchor="start"  stroke="#000" stroke-width="0.2">Linear fit</text>
<text x="149.40" y="433.90" font-size="16.5" font-weight="bold" fill="#000" text-anchor="start"  stroke="#000" stroke-width="0.2">95% Confidence band</text>
<text x="149.40" y="454.60" font-size="16.5" font-weight="bold" fill="#000" text-anchor="start"  stroke="#000" stroke-width="0.2">95% Prediction band</text>
<text x="143.8" y="483.6" font-size="19.6" font-weight="bold" fill="#d4187f" stroke="#d4187f" stroke-width="0.2">R<tspan font-size="12.5" dy="-8">2</tspan><tspan dy="8"> = 0.9291</tspan></text>
<text x="133.8" y="640.6" font-size="19.8" font-weight="bold" fill="#d4187f" stroke="#d4187f" stroke-width="0.2">ln<tspan font-style="italic">k</tspan><tspan font-size="13" dy="4.5">obs</tspan><tspan dy="-4.5"> = 2.3888[F content ] - 4.4446</tspan></text>
<rect x="82.30" y="383.30" width="367.70" height="295.50" fill="none" stroke="#000" stroke-width="2.2"/>
<line x1="76.80" y1="383.50" x2="82.30" y2="383.50" stroke="#000" stroke-width="2" />
<line x1="76.80" y1="425.70" x2="82.30" y2="425.70" stroke="#000" stroke-width="2" />
<line x1="76.80" y1="467.90" x2="82.30" y2="467.90" stroke="#000" stroke-width="2" />
<line x1="76.80" y1="510.10" x2="82.30" y2="510.10" stroke="#000" stroke-width="2" />
<line x1="76.80" y1="552.30" x2="82.30" y2="552.30" stroke="#000" stroke-width="2" />
<line x1="76.80" y1="594.50" x2="82.30" y2="594.50" stroke="#000" stroke-width="2" />
<line x1="76.80" y1="636.70" x2="82.30" y2="636.70" stroke="#000" stroke-width="2" />
<line x1="76.80" y1="678.90" x2="82.30" y2="678.90" stroke="#000" stroke-width="2" />
<line x1="79.30" y1="404.60" x2="82.30" y2="404.60" stroke="#000" stroke-width="2" />
<line x1="79.30" y1="446.80" x2="82.30" y2="446.80" stroke="#000" stroke-width="2" />
<line x1="79.30" y1="489.00" x2="82.30" y2="489.00" stroke="#000" stroke-width="2" />
<line x1="79.30" y1="531.20" x2="82.30" y2="531.20" stroke="#000" stroke-width="2" />
<line x1="79.30" y1="573.40" x2="82.30" y2="573.40" stroke="#000" stroke-width="2" />
<line x1="79.30" y1="615.60" x2="82.30" y2="615.60" stroke="#000" stroke-width="2" />
<line x1="79.30" y1="657.80" x2="82.30" y2="657.80" stroke="#000" stroke-width="2" />
<line x1="116.20" y1="678.80" x2="116.20" y2="684.30" stroke="#000" stroke-width="2" />
<line x1="182.90" y1="678.80" x2="182.90" y2="684.30" stroke="#000" stroke-width="2" />
<line x1="249.60" y1="678.80" x2="249.60" y2="684.30" stroke="#000" stroke-width="2" />
<line x1="316.30" y1="678.80" x2="316.30" y2="684.30" stroke="#000" stroke-width="2" />
<line x1="383.00" y1="678.80" x2="383.00" y2="684.30" stroke="#000" stroke-width="2" />
<line x1="449.70" y1="678.80" x2="449.70" y2="684.30" stroke="#000" stroke-width="2" />
<line x1="149.55" y1="678.80" x2="149.55" y2="681.80" stroke="#000" stroke-width="2" />
<line x1="216.25" y1="678.80" x2="216.25" y2="681.80" stroke="#000" stroke-width="2" />
<line x1="282.95" y1="678.80" x2="282.95" y2="681.80" stroke="#000" stroke-width="2" />
<line x1="349.65" y1="678.80" x2="349.65" y2="681.80" stroke="#000" stroke-width="2" />
<line x1="416.35" y1="678.80" x2="416.35" y2="681.80" stroke="#000" stroke-width="2" />
<text x="72.50" y="389.60" font-size="21" font-weight="bold" fill="#000" text-anchor="end"  stroke="#000" stroke-width="0.2">0</text>
<text x="72.50" y="431.80" font-size="21" font-weight="bold" fill="#000" text-anchor="end"  stroke="#000" stroke-width="0.2">-1</text>
<text x="72.50" y="474.00" font-size="21" font-weight="bold" fill="#000" text-anchor="end"  stroke="#000" stroke-width="0.2">-2</text>
<text x="72.50" y="516.20" font-size="21" font-weight="bold" fill="#000" text-anchor="end"  stroke="#000" stroke-width="0.2">-3</text>
<text x="72.50" y="558.40" font-size="21" font-weight="bold" fill="#000" text-anchor="end"  stroke="#000" stroke-width="0.2">-4</text>
<text x="72.50" y="600.60" font-size="21" font-weight="bold" fill="#000" text-anchor="end"  stroke="#000" stroke-width="0.2">-5</text>
<text x="72.50" y="642.80" font-size="21" font-weight="bold" fill="#000" text-anchor="end"  stroke="#000" stroke-width="0.2">-6</text>
<text x="72.50" y="685.00" font-size="21" font-weight="bold" fill="#000" text-anchor="end"  stroke="#000" stroke-width="0.2">-7</text>
<text x="116.20" y="705.50" font-size="21" font-weight="bold" fill="#000" text-anchor="middle"  stroke="#000" stroke-width="0.2">0.0</text>
<text x="182.90" y="705.50" font-size="21" font-weight="bold" fill="#000" text-anchor="middle"  stroke="#000" stroke-width="0.2">0.2</text>
<text x="249.60" y="705.50" font-size="21" font-weight="bold" fill="#000" text-anchor="middle"  stroke="#000" stroke-width="0.2">0.4</text>
<text x="316.30" y="705.50" font-size="21" font-weight="bold" fill="#000" text-anchor="middle"  stroke="#000" stroke-width="0.2">0.6</text>
<text x="383.00" y="705.50" font-size="21" font-weight="bold" fill="#000" text-anchor="middle"  stroke="#000" stroke-width="0.2">0.8</text>
<text x="449.70" y="705.50" font-size="21" font-weight="bold" fill="#000" text-anchor="middle"  stroke="#000" stroke-width="0.2">1.0</text>
<text x="266.15" y="739.50" font-size="21" font-weight="bold" fill="#000" text-anchor="middle"  stroke="#000" stroke-width="0.2">F content (at. %)</text>
<text transform="translate(43,531) rotate(-90)" font-size="21.5" font-weight="bold" text-anchor="middle" stroke="#000" stroke-width="0.2">ln<tspan font-style="italic">k</tspan><tspan font-size="14" dy="5.5">obs</tspan></text>
<text x="5.10" y="405.60" font-size="33" font-weight="normal" fill="#000" text-anchor="start" >(c)</text>
<rect x="519.8" y="383.9" width="370.5" height="298.1" fill="url(#bgd)"/>
<path d="M562.14,505.46 L566.54,504.90 L570.94,504.32 L575.33,503.73 L579.73,503.12 L584.12,502.51 L588.52,501.88 L592.92,501.23 L597.31,500.57 L601.71,499.90 L606.10,499.21 L610.50,498.50 L614.89,497.78 L619.29,497.05 L623.69,496.30 L628.08,495.53 L632.48,494.75 L636.87,493.95 L641.27,493.13 L645.67,492.29 L650.06,491.44 L654.46,490.57 L658.85,489.69 L663.25,488.78 L667.65,487.86 L672.04,486.92 L676.44,485.97 L680.83,484.99 L685.23,484.00 L689.62,482.99 L694.02,481.96 L698.42,480.92 L702.81,479.85 L707.21,478.77 L711.60,477.67 L716.00,476.56 L720.40,475.42 L724.79,474.27 L729.19,473.10 L733.58,471.92 L737.98,470.72 L742.38,469.50 L746.77,468.27 L751.17,467.02 L755.56,465.75 L759.96,464.47 L764.35,463.18 L768.75,461.87 L773.15,460.54 L777.54,459.20 L781.94,457.85 L786.33,456.48 L790.73,455.10 L795.13,453.70 L799.52,452.30 L803.92,450.88 L808.31,449.45 L812.71,448.00 L817.11,446.55 L821.50,445.08 L821.50,556.11 L817.11,556.63 L812.71,557.16 L808.31,557.70 L803.92,558.26 L799.52,558.82 L795.13,559.40 L790.73,559.99 L786.33,560.60 L781.94,561.22 L777.54,561.85 L773.15,562.50 L768.75,563.16 L764.35,563.83 L759.96,564.52 L755.56,565.23 L751.17,565.95 L746.77,566.69 L742.38,567.44 L737.98,568.21 L733.58,568.99 L729.19,569.80 L724.79,570.61 L720.40,571.45 L716.00,572.30 L711.60,573.17 L707.21,574.06 L702.81,574.96 L698.42,575.89 L694.02,576.83 L689.62,577.79 L685.23,578.76 L680.83,579.76 L676.44,580.77 L672.04,581.80 L667.65,582.85 L663.25,583.91 L658.85,584.99 L654.46,586.09 L650.06,587.21 L645.67,588.35 L641.27,589.50 L636.87,590.67 L632.48,591.85 L628.08,593.06 L623.69,594.27 L619.29,595.51 L614.89,596.76 L610.50,598.03 L606.10,599.31 L601.71,600.61 L597.31,601.92 L592.92,603.25 L588.52,604.59 L584.12,605.94 L579.73,607.31 L575.33,608.69 L570.94,610.09 L566.54,611.50 L562.14,612.92Z" fill="#e2e8fa"/>
<path d="M562.14,526.16 L566.54,525.87 L570.94,525.57 L575.33,525.25 L579.73,524.92 L584.12,524.58 L588.52,524.22 L592.92,523.85 L597.31,523.46 L601.71,523.05 L606.10,522.63 L610.50,522.18 L614.89,521.71 L619.29,521.22 L623.69,520.71 L628.08,520.17 L632.48,519.60 L636.87,519.00 L641.27,518.38 L645.67,517.72 L650.06,517.03 L654.46,516.31 L658.85,515.55 L663.25,514.75 L667.65,513.92 L672.04,513.04 L676.44,512.13 L680.83,511.18 L685.23,510.19 L689.62,509.16 L694.02,508.09 L698.42,506.98 L702.81,505.83 L707.21,504.64 L711.60,503.42 L716.00,502.16 L720.40,500.87 L724.79,499.54 L729.19,498.18 L733.58,496.79 L737.98,495.38 L742.38,493.93 L746.77,492.46 L751.17,490.97 L755.56,489.45 L759.96,487.91 L764.35,486.35 L768.75,484.78 L773.15,483.18 L777.54,481.57 L781.94,479.94 L786.33,478.30 L790.73,476.64 L795.13,474.97 L799.52,473.29 L803.92,471.60 L808.31,469.90 L812.71,468.19 L817.11,466.46 L821.50,464.73 L821.50,536.46 L817.11,536.71 L812.71,536.97 L808.31,537.25 L803.92,537.53 L799.52,537.83 L795.13,538.13 L790.73,538.45 L786.33,538.78 L781.94,539.12 L777.54,539.48 L773.15,539.85 L768.75,540.25 L764.35,540.65 L759.96,541.08 L755.56,541.53 L751.17,542.00 L746.77,542.49 L742.38,543.01 L737.98,543.55 L733.58,544.12 L729.19,544.72 L724.79,545.35 L720.40,546.01 L716.00,546.70 L711.60,547.43 L707.21,548.19 L702.81,548.99 L698.42,549.83 L694.02,550.70 L689.62,551.62 L685.23,552.57 L680.83,553.57 L676.44,554.60 L672.04,555.68 L667.65,556.79 L663.25,557.94 L658.85,559.13 L654.46,560.36 L650.06,561.62 L645.67,562.92 L641.27,564.25 L636.87,565.61 L632.48,567.00 L628.08,568.42 L623.69,569.86 L619.29,571.34 L614.89,572.83 L610.50,574.35 L606.10,575.89 L601.71,577.45 L597.31,579.03 L592.92,580.63 L588.52,582.24 L584.12,583.87 L579.73,585.51 L575.33,587.17 L570.94,588.84 L566.54,590.52 L562.14,592.22Z" fill="#a9b9f4"/>
<line x1="562.14" y1="559.19" x2="821.50" y2="500.59" stroke="#1030d8" stroke-width="1.8" stroke-dasharray="8.4,3.9,1.9,4.4"/>
<circle cx="562.14" cy="563.24" r="4.6" fill="url(#m_dblue)"/>
<circle cx="615.07" cy="545.86" r="4.6" fill="url(#m_dblue)"/>
<circle cx="734.17" cy="508.85" r="4.6" fill="url(#m_dblue)"/>
<circle cx="821.50" cy="507.95" r="4.6" fill="url(#m_dblue)"/>
<line x1="543.90" y1="403.30" x2="576.50" y2="403.30" stroke="#1030d8" stroke-width="1.8" stroke-dasharray="8.4,3.9,1.9,4.4"/>
<rect x="544.8" y="416.5" width="32.8" height="15.6" fill="#a8bcf8" stroke="#90a2e2" stroke-width="1"/>
<rect x="544.8" y="437.6" width="32.8" height="15.8" fill="#dee7fb" stroke="#cdd8f2" stroke-width="0.8"/>
<text x="587.30" y="408.60" font-size="16.5" font-weight="bold" fill="#000" text-anchor="start"  stroke="#000" stroke-width="0.2">Linear fit</text>
<text x="587.30" y="430.40" font-size="16.5" font-weight="bold" fill="#000" text-anchor="start"  stroke="#000" stroke-width="0.2">95% Confidence band</text>
<text x="587.30" y="451.20" font-size="16.5" font-weight="bold" fill="#000" text-anchor="start"  stroke="#000" stroke-width="0.2">95% Prediction band</text>
<text x="582.5" y="484.6" font-size="19.6" font-weight="bold" fill="#1c1ccc" stroke="#1c1ccc" stroke-width="0.2">R<tspan font-size="12.5" dy="-8">2</tspan><tspan dy="8"> = 0.9138</tspan></text>
<text x="533.0" y="636.9" font-size="18.3" font-weight="bold" fill="#1832d4" stroke="#1832d4" stroke-width="0.2">ln<tspan font-style="italic">k</tspan><tspan font-size="12" dy="4.5">obs</tspan><tspan dy="-4.5"> = 2.4071[Semi-ionic C-F/Covalent C-F]</tspan></text>
<text x="596.30" y="663.60" font-size="18.3" font-weight="bold" fill="#1832d4" text-anchor="start"  stroke="#1832d4" stroke-width="0.2">- 7.3316</text>
<rect x="519.80" y="383.90" width="370.50" height="298.10" fill="none" stroke="#000" stroke-width="2.2"/>
<line x1="514.30" y1="383.90" x2="519.80" y2="383.90" stroke="#000" stroke-width="2" />
<line x1="514.30" y1="433.58" x2="519.80" y2="433.58" stroke="#000" stroke-width="2" />
<line x1="514.30" y1="483.26" x2="519.80" y2="483.26" stroke="#000" stroke-width="2" />
<line x1="514.30" y1="532.94" x2="519.80" y2="532.94" stroke="#000" stroke-width="2" />
<line x1="514.30" y1="582.62" x2="519.80" y2="582.62" stroke="#000" stroke-width="2" />
<line x1="514.30" y1="632.30" x2="519.80" y2="632.30" stroke="#000" stroke-width="2" />
<line x1="514.30" y1="681.98" x2="519.80" y2="681.98" stroke="#000" stroke-width="2" />
<line x1="516.80" y1="408.74" x2="519.80" y2="408.74" stroke="#000" stroke-width="2" />
<line x1="516.80" y1="458.42" x2="519.80" y2="458.42" stroke="#000" stroke-width="2" />
<line x1="516.80" y1="508.10" x2="519.80" y2="508.10" stroke="#000" stroke-width="2" />
<line x1="516.80" y1="557.78" x2="519.80" y2="557.78" stroke="#000" stroke-width="2" />
<line x1="516.80" y1="607.46" x2="519.80" y2="607.46" stroke="#000" stroke-width="2" />
<line x1="516.80" y1="657.14" x2="519.80" y2="657.14" stroke="#000" stroke-width="2" />
<line x1="572.73" y1="682.00" x2="572.73" y2="687.50" stroke="#000" stroke-width="2" />
<line x1="678.59" y1="682.00" x2="678.59" y2="687.50" stroke="#000" stroke-width="2" />
<line x1="784.45" y1="682.00" x2="784.45" y2="687.50" stroke="#000" stroke-width="2" />
<line x1="890.31" y1="682.00" x2="890.31" y2="687.50" stroke="#000" stroke-width="2" />
<line x1="625.66" y1="682.00" x2="625.66" y2="685.00" stroke="#000" stroke-width="2" />
<line x1="731.52" y1="682.00" x2="731.52" y2="685.00" stroke="#000" stroke-width="2" />
<line x1="837.38" y1="682.00" x2="837.38" y2="685.00" stroke="#000" stroke-width="2" />
<text x="509.00" y="390.00" font-size="21" font-weight="bold" fill="#000" text-anchor="end"  stroke="#000" stroke-width="0.2">0</text>
<text x="509.00" y="439.68" font-size="21" font-weight="bold" fill="#000" text-anchor="end"  stroke="#000" stroke-width="0.2">-1</text>
<text x="509.00" y="489.36" font-size="21" font-weight="bold" fill="#000" text-anchor="end"  stroke="#000" stroke-width="0.2">-2</text>
<text x="509.00" y="539.04" font-size="21" font-weight="bold" fill="#000" text-anchor="end"  stroke="#000" stroke-width="0.2">-3</text>
<text x="509.00" y="588.72" font-size="21" font-weight="bold" fill="#000" text-anchor="end"  stroke="#000" stroke-width="0.2">-4</text>
<text x="509.00" y="638.40" font-size="21" font-weight="bold" fill="#000" text-anchor="end"  stroke="#000" stroke-width="0.2">-5</text>
<text x="509.00" y="688.08" font-size="21" font-weight="bold" fill="#000" text-anchor="end"  stroke="#000" stroke-width="0.2">-6</text>
<text x="572.73" y="707.60" font-size="21" font-weight="bold" fill="#000" text-anchor="middle"  stroke="#000" stroke-width="0.2">1.6</text>
<text x="678.59" y="707.60" font-size="21" font-weight="bold" fill="#000" text-anchor="middle"  stroke="#000" stroke-width="0.2">1.8</text>
<text x="784.45" y="707.60" font-size="21" font-weight="bold" fill="#000" text-anchor="middle"  stroke="#000" stroke-width="0.2">2.0</text>
<text x="890.31" y="707.60" font-size="21" font-weight="bold" fill="#000" text-anchor="middle"  stroke="#000" stroke-width="0.2">2.2</text>
<text x="705.05" y="743.10" font-size="21.6" font-weight="bold" fill="#000" text-anchor="middle"  stroke="#000" stroke-width="0.2">Semi-ionic C-F/Covalent C-F</text>
<text transform="translate(481,532.5) rotate(-90)" font-size="21.5" font-weight="bold" text-anchor="middle" stroke="#000" stroke-width="0.2">ln<tspan font-style="italic">k</tspan><tspan font-size="14" dy="5.5">obs</tspan></text>
<text x="454.90" y="406.30" font-size="33" font-weight="normal" fill="#000" text-anchor="start" >(d)</text>
<rect x="0" y="0" width="1.2" height="750" fill="#eef2f8"/>
<ellipse cx="456" cy="759.3" rx="5.5" ry="2.2" fill="#b4b4b4"/></svg>
</body></html>
